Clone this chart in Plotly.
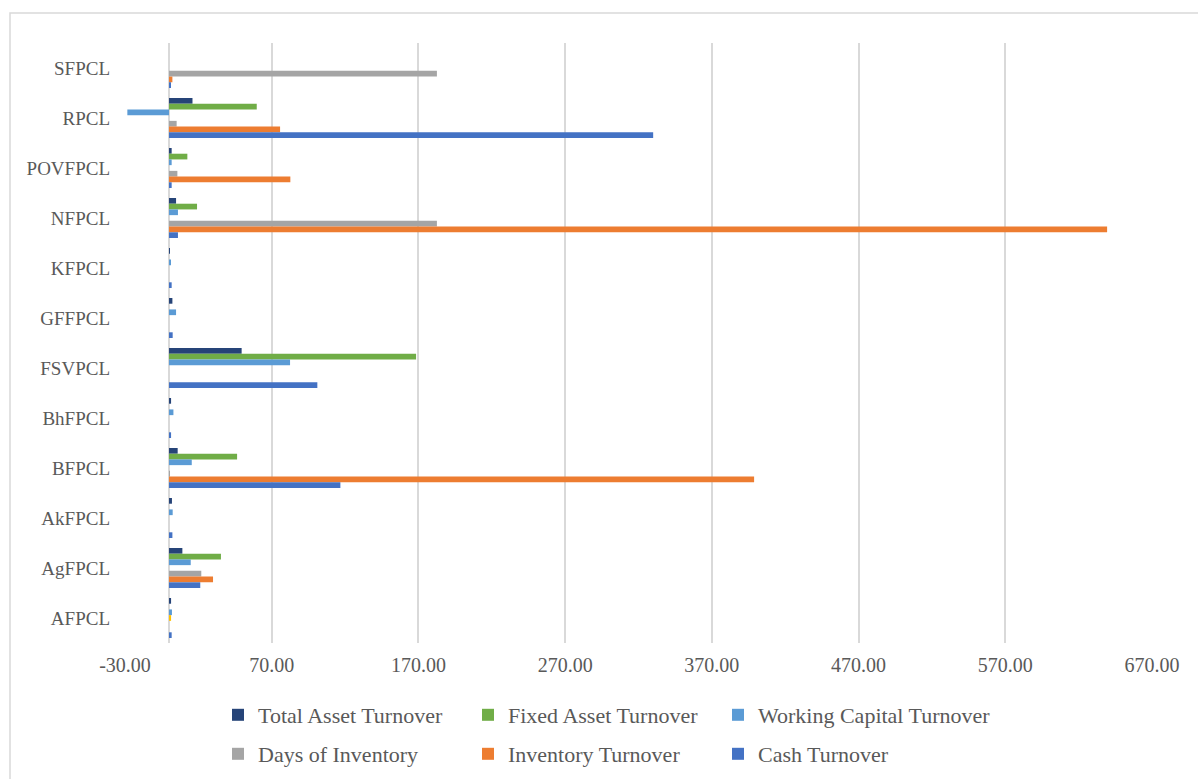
import plotly.graph_objects as go

# Categories listed top to bottom as shown
categories = ["SFPCL", "RPCL", "POVFPCL", "NFPCL", "KFPCL", "GFFPCL",
              "FSVPCL", "BhFPCL", "BFPCL", "AkFPCL", "AgFPCL", "AFPCL"]

total_asset_turnover = [0, 16.0, 1.8, 4.8, 0.5, 2.3, 49.5, 1.4, 5.9, 2.0, 9.1, 1.4]
fixed_asset_turnover = [0, 59.8, 12.5, 19.1, 0, 0, 168.4, 0, 46.4, 0, 35.4, 0]
working_capital_turnover = [0, -28.4, 1.8, 6.1, 0.8, 4.8, 82.5, 3.0, 15.5, 2.5, 14.8, 2.0]
unlabelled_series = [0, 0, 0, 0, 0, 0, 0, 0, 0, 0, 0, 1.4]
days_of_inventory = [182.6, 5.2, 5.7, 182.6, 0, 0, 0, 0, 0.5, 0, 22.0, 0]
inventory_turnover = [2.3, 75.7, 82.7, 639.4, 0, 0, 0, 0, 398.8, 0, 30.0, 0]
cash_turnover = [1.0, 330.0, 1.8, 6.1, 1.8, 2.5, 101.1, 1.4, 116.8, 2.3, 21.3, 1.8]

x_ticks = [-30, 70, 170, 270, 370, 470, 570, 670]
x_tick_labels = [f"{v:.2f}" for v in x_ticks]

series = [
    ("Total Asset Turnover", total_asset_turnover, "#264478", "legend", True),
    ("Fixed Asset Turnover", fixed_asset_turnover, "#70AD47", "legend", True),
    ("Working Capital Turnover", working_capital_turnover, "#5B9BD5", "legend3", True),
    ("Series 4", unlabelled_series, "#FFC000", "legend", False),
    ("Days of Inventory", days_of_inventory, "#A5A5A5", "legend2", True),
    ("Inventory Turnover", inventory_turnover, "#ED7D31", "legend2", True),
    ("Cash Turnover", cash_turnover, "#4472C4", "legend2", True),
]

fig = go.Figure()
for name, vals, color, leg, show in series:
    fig.add_trace(go.Bar(
        y=categories, x=vals, name=name, orientation="h",
        marker=dict(color=color, line=dict(width=0)),
        legend=leg, showlegend=show,
    ))

FONT = "Liberation Serif, Times New Roman, serif"
TXT = "#595959"

L, R, T, B = 125, 46, 43, 136
W, H = 1198, 779
pw, ph = W - L - R, H - T - B

def px(xp):
    return (xp - L) / pw

def py(yp):
    return (H - B - yp) / ph

def legend_style(entrywidth):
    return dict(
        orientation="h", xanchor="left", yanchor="middle",
        font=dict(family=FONT, size=22, color=TXT),
        entrywidth=entrywidth, entrywidthmode="pixels",
        bgcolor="rgba(0,0,0,0)", traceorder="normal",
    )

fig.update_layout(
    width=W, height=H,
    margin=dict(l=L, r=R, t=T, b=B, autoexpand=False),
    paper_bgcolor="white", plot_bgcolor="white",
    barmode="group", bargap=0.2, bargroupgap=0,
    font=dict(family=FONT, color=TXT),
    legend=dict(x=px(218), y=py(715), **legend_style(205)),
    legend3=dict(x=px(718), y=py(715), **legend_style(0)),
    legend2=dict(x=px(218), y=py(754), **legend_style(205)),
    xaxis=dict(
        range=[-30, 670], tickvals=x_ticks, ticktext=x_tick_labels,
        showgrid=True, gridcolor="#D9D9D9", gridwidth=1.5,
        zeroline=True, zerolinecolor="#D9D9D9", zerolinewidth=1.5,
        showline=False, ticks="",
        ticklabelstandoff=8,
        tickfont=dict(family=FONT, size=20, color=TXT),
        fixedrange=True,
    ),
    yaxis=dict(
        categoryorder="array", categoryarray=categories,
        autorange="reversed",
        showgrid=False, zeroline=False, showline=False, ticks="",
        ticklabelstandoff=14,
        tickfont=dict(family=FONT, size=19, color=TXT),
        fixedrange=True,
    ),
    shapes=[dict(
        type="rect", xref="paper", yref="paper",
        x0=px(10), x1=px(1210), y0=py(13), y1=py(800),
        line=dict(color="#D9D9D9", width=1.5), fillcolor="rgba(0,0,0,0)",
        layer="below",
    )],
)

fig.write_html("out.html")
